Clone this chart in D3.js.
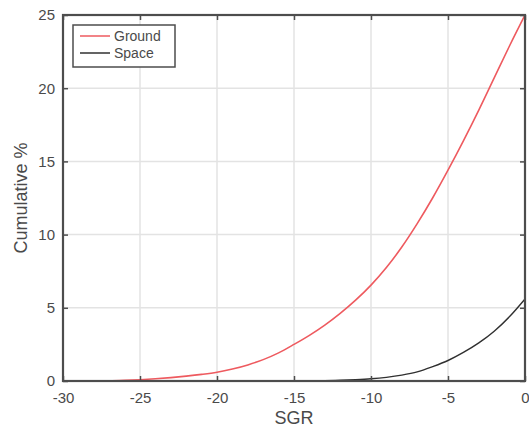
<!DOCTYPE html>
<html>
<head>
<meta charset="utf-8">
<script src="https://cdn.jsdelivr.net/npm/d3@7"></script>
<style>
  body { margin: 0; background: #fff; }
  svg text { font-family: "Liberation Sans", Arial, sans-serif; fill: #4a4a4a; }
</style>
</head>
<body>
<svg id="chart" width="529" height="428"></svg>
<script>
// values
const sgr = [-30, -29, -28, -27, -26, -25, -24, -23, -22, -21, -20, -19, -18, -17, -16, -15,
    -14, -13, -12, -11, -10, -9, -8, -7, -6, -5, -4, -3, -2, -1, 0];
const ground = [0, 0, 0.01, 0.02, 0.05, 0.09, 0.15, 0.23, 0.33, 0.45, 0.6, 0.82, 1.1, 1.46, 1.92, 2.5,
    3.12, 3.82, 4.62, 5.52, 6.55, 7.75, 9.15, 10.75, 12.5, 14.4, 16.4, 18.5, 20.7, 22.9, 25];
const spaceSgr = [-15, -14, -13, -12, -11, -10, -9, -8, -7, -6, -5, -4, -3, -2, -1, 0];
const space = [0, 0.01, 0.02, 0.05, 0.09, 0.15, 0.25, 0.4, 0.62, 0.98, 1.4, 1.95, 2.6, 3.4, 4.4, 5.6];
const xTicks = [-30, -25, -20, -15, -10, -5, 0];
const yTicks = [0, 5, 10, 15, 20, 25];

const svg = d3.select("#chart");
const margin = { top: 15, right: 4, bottom: 47, left: 63 };
const width = +svg.attr("width") - margin.left - margin.right;
const height = +svg.attr("height") - margin.top - margin.bottom;

const g = svg.append("g").attr("transform", `translate(${margin.left},${margin.top})`);

const x = d3.scaleLinear().domain([-30, 0]).range([0, width]);
const y = d3.scaleLinear().domain([0, 25]).range([height, 0]);

// grid
g.append("g")
    .selectAll("line")
    .data(xTicks)
    .enter()
    .append("line")
    .attr("x1", d => x(d)).attr("x2", d => x(d))
    .attr("y1", 0).attr("y2", height)
    .attr("stroke", "#e3e3e3")
    .attr("stroke-width", 1.5);

g.append("g")
    .selectAll("line")
    .data(yTicks)
    .enter()
    .append("line")
    .attr("x1", 0).attr("x2", width)
    .attr("y1", d => y(d)).attr("y2", d => y(d))
    .attr("stroke", "#e3e3e3")
    .attr("stroke-width", 1.5);

// lines
const line = d3.line()
    .x(d => x(d[0]))
    .y(d => y(d[1]))
    .curve(d3.curveMonotoneX);

g.append("path")
    .datum(d3.zip(sgr, ground))
    .attr("fill", "none")
    .attr("stroke", "#ee5a5f")
    .attr("stroke-width", 1.6)
    .attr("d", line);

g.append("path")
    .datum(d3.zip(spaceSgr, space))
    .attr("fill", "none")
    .attr("stroke", "#303030")
    .attr("stroke-width", 1.4)
    .attr("d", line);

// axes, ticks pointing inward
function styleAxis(sel) {
    sel.select(".domain").remove();
    sel.selectAll(".tick line").attr("stroke", "#4d4d4d").attr("stroke-width", 1.5);
    sel.selectAll(".tick text").style("font-size", "15px");
}

const fmt = d => String(d);

g.append("g")
    .attr("transform", `translate(0,${height})`)
    .call(d3.axisBottom(x).tickValues(xTicks).tickSize(-5).tickPadding(11).tickFormat(fmt))
    .call(styleAxis);

g.append("g")
    .call(d3.axisLeft(y).tickValues(yTicks).tickSize(-5).tickPadding(8).tickFormat(fmt))
    .call(styleAxis);

g.append("g")
    .call(d3.axisTop(x).tickValues(xTicks).tickSize(-5).tickFormat(""))
    .call(styleAxis);

g.append("g")
    .attr("transform", `translate(${width},0)`)
    .call(d3.axisRight(y).tickValues(yTicks).tickSize(-5).tickFormat(""))
    .call(styleAxis);

// box
g.append("rect")
    .attr("width", width)
    .attr("height", height)
    .attr("fill", "none")
    .attr("stroke", "#4d4d4d")
    .attr("stroke-width", 2.2);

// axis labels
svg.append("text")
    .attr("x", margin.left + width / 2)
    .attr("y", 424)
    .attr("text-anchor", "middle")
    .style("font-size", "18px")
    .text("SGR");

svg.append("text")
    .attr("transform", `translate(27,${margin.top + height / 2}) rotate(-90)`)
    .attr("text-anchor", "middle")
    .style("font-size", "18px")
    .text("Cumulative %");

// legend
const legend = g.append("g").attr("transform", "translate(10,10)");
legend.append("rect")
    .attr("width", 102)
    .attr("height", 42)
    .attr("fill", "#fff")
    .attr("stroke", "#4d4d4d")
    .attr("stroke-width", 1.5);

const legendItems = [
    { name: "Ground", color: "#ee5a5f" },
    { name: "Space", color: "#303030" }
];

legendItems.forEach((d, i) => {
    const row = legend.append("g").attr("transform", `translate(0,${11 + i * 17})`);
    row.append("line")
        .attr("x1", 7).attr("x2", 37)
        .attr("stroke", d.color)
        .attr("stroke-width", 1.5);
    row.append("text")
        .attr("x", 41)
        .attr("dy", "0.35em")
        .style("font-size", "14px")
        .text(d.name);
});
</script>
</body>
</html>
